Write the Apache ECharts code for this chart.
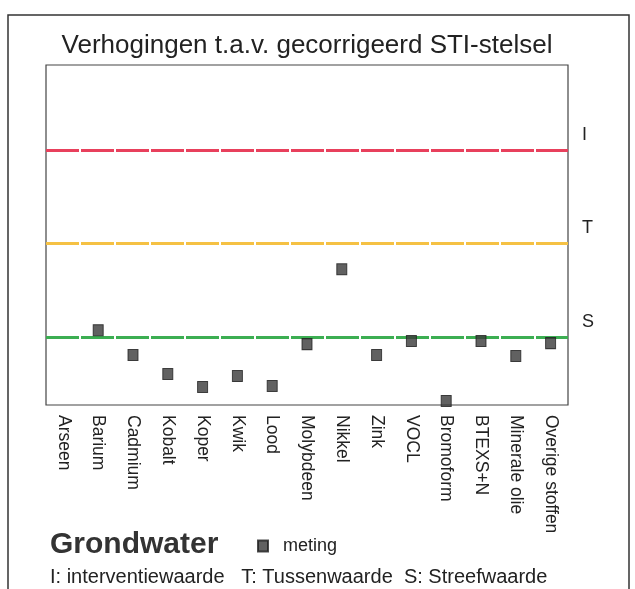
<!DOCTYPE html>
<html>
<head>
<meta charset="utf-8">
<script src="https://cdn.jsdelivr.net/npm/echarts@6/dist/echarts.min.js"></script>
<style>html,body{margin:0;padding:0;background:#fff}#c{width:635px;height:589px}</style>
</head>
<body>
<div id="c"></div>
<script>
var categories = ['Arseen','Barium','Cadmium','Kobalt','Koper','Kwik','Lood','Molybdeen','Nikkel','Zink','VOCL','Bromoform','BTEXS+N','Minerale olie','Overige stoffen'];
var meting = [null, 22, 14.7, 9.1, 5.3, 8.5, 5.6, 17.9, 39.9, 14.7, 18.8, 1.2, 18.8, 14.4, 18.2];
var thresholdNames = ['I','T','S'];
var thresholdValues = [75, 47.5, 20];
var thresholdColors = ['#e8405c','#f5c144','#3cae52'];

var chart = echarts.init(document.getElementById('c'));
var font = 'Liberation Sans, Arial, sans-serif';
chart.setOption({
  animation: false,
  title: {
    text: 'Verhogingen t.a.v. gecorrigeerd STI-stelsel',
    left: 302, textAlign: 'center', top: 28,
    textStyle: {fontFamily: font, fontSize: 26, fontWeight: 'normal', color: '#222'}
  },
  grid: {left: 46, right: 67, top: 65, bottom: 184, show: true, borderColor: '#444', borderWidth: 1.2, containLabel: false},
  legend: {
    data: ['meting'], left: 252, top: 532, icon: 'rect', itemWidth: 10, itemHeight: 11, itemGap: 8,
    textStyle: {fontFamily: font, fontSize: 18, color: '#222', padding: [0, 0, 0, 10]}
  },
  xAxis: {
    type: 'category', data: categories, boundaryGap: true,
    axisLine: {show: false}, axisTick: {show: false}, splitLine: {show: false},
    axisLabel: {rotate: -90, interval: 0, margin: 10, fontFamily: font, fontSize: 17.5, color: '#222'}
  },
  yAxis: {type: 'value', min: 0, max: 100, show: false, splitLine: {show: false}},
  series: [{
    name: 'meting', type: 'scatter', data: meting,
    symbol: 'rect', symbolSize: [10, 11], z: 5,
    itemStyle: {color: '#3a3a3a', borderColor: '#1e1e1e', borderWidth: 1},
    markLine: {
      silent: true, symbol: 'none', animation: false,
      data: thresholdValues.map(function (v, i) {
        return {
          yAxis: v, name: thresholdNames[i],
          lineStyle: {color: thresholdColors[i], width: 3, type: [33, 2], dashOffset: 0},
          label: {show: true, position: 'end', formatter: thresholdNames[i] + '\n ', distance: 14,
                  lineHeight: 30, fontFamily: font, fontSize: 18, color: '#222'}
        };
      })
    }
  }],
  graphic: [
    {type: 'rect', shape: {x: 8, y: 15, width: 621, height: 600}, style: {fill: 'none', stroke: '#333', lineWidth: 1.5}, z: -1},
    {type: 'text', left: 50, top: 530, style: {text: 'Grondwater', font: 'bold 30px ' + font, fill: '#333'}},
    {type: 'text', left: 50, top: 567, style: {text: 'I: interventiewaarde   T: Tussenwaarde  S: Streefwaarde', font: '20px ' + font, fill: '#222'}}
  ]
});
</script>
</body>
</html>
